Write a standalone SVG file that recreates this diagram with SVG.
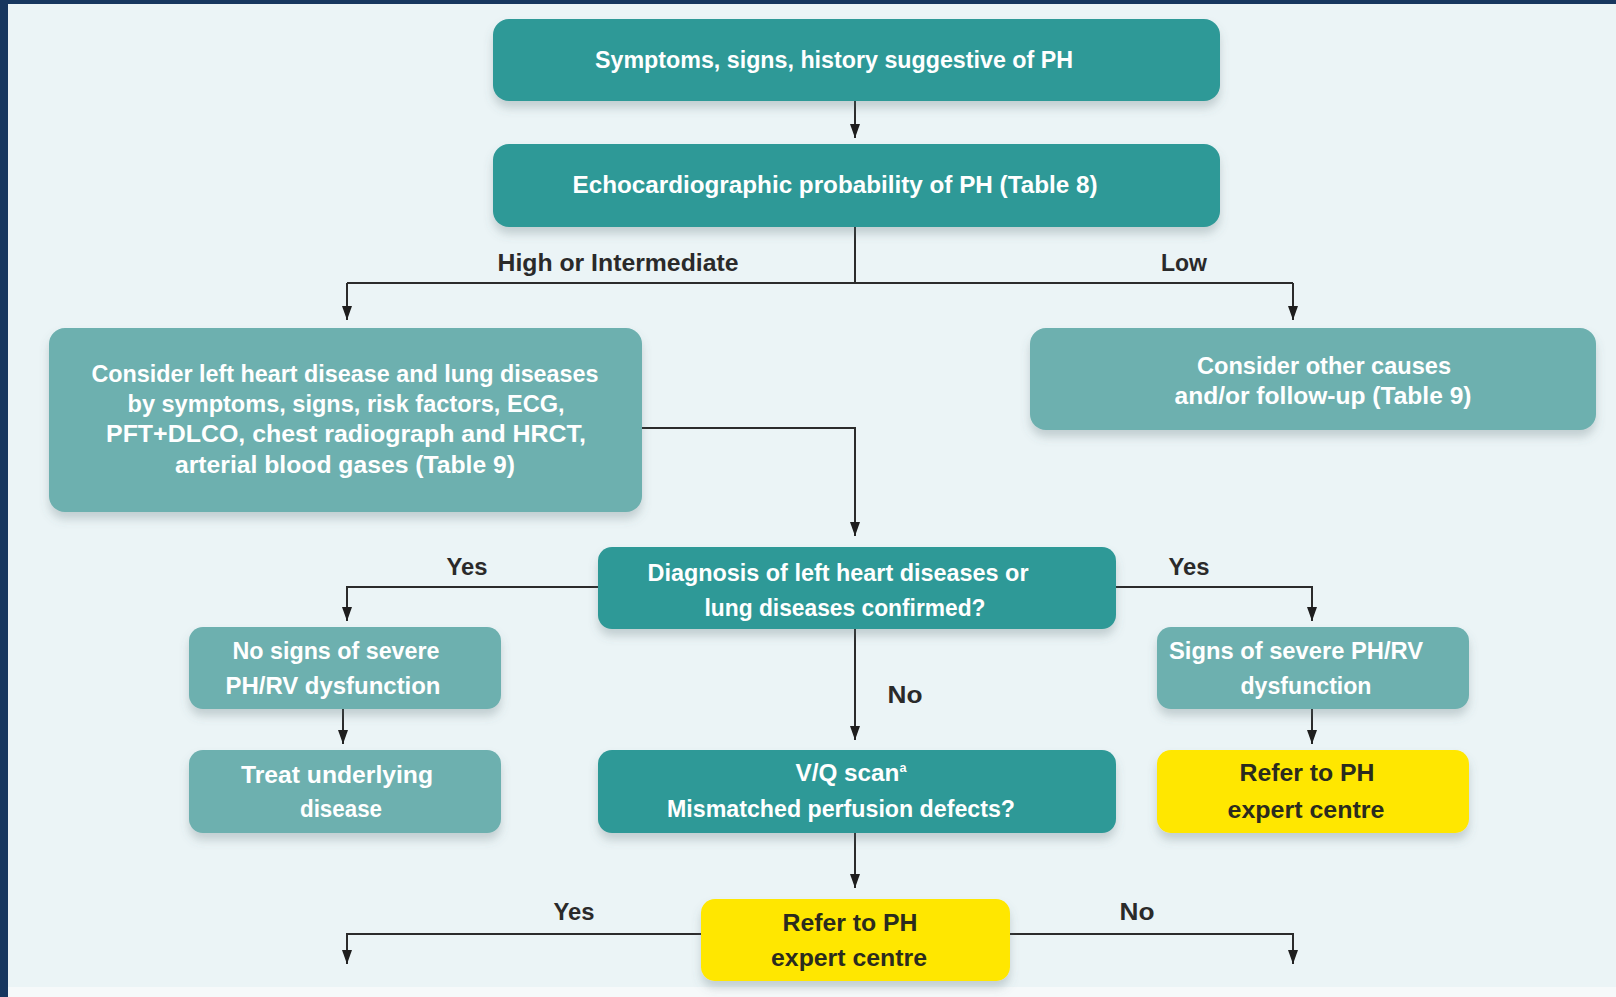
<svg xmlns="http://www.w3.org/2000/svg" width="1616" height="997" viewBox="0 0 1616 997">
<style>
.dark{fill:#2E9997;}
.light{fill:#6DB0AF;}
.yel{fill:#FFE700;}
.t{font-family:"Liberation Sans",Arial,sans-serif;font-weight:bold;font-size:23px;fill:#FFFFFF;text-anchor:middle;}
.ty{font-family:"Liberation Sans",Arial,sans-serif;font-weight:bold;font-size:23px;fill:#2B2B1E;text-anchor:middle;}
.lab{font-family:"Liberation Sans",Arial,sans-serif;font-weight:bold;font-size:23px;fill:#2A2A2A;text-anchor:middle;}
.c{fill:none;stroke:#2B2B2B;stroke-width:2;}
</style>
<defs>
<filter id="sh" x="-10%" y="-20%" width="120%" height="160%">
<feDropShadow dx="0" dy="7" stdDeviation="5" flood-color="#5A6E73" flood-opacity="0.28"/>
</filter>
<marker id="ah" viewBox="0 0 10 14" refX="5" refY="14" markerWidth="10" markerHeight="14" markerUnits="userSpaceOnUse" orient="auto-start-reverse">
<path d="M0,0 L10,0 L5,14 Z" fill="#1E1E1E"/>
</marker>
<marker id="ad" viewBox="0 0 14 10" refX="14" refY="5" markerWidth="14" markerHeight="10" markerUnits="userSpaceOnUse" orient="auto">
<path d="M0,0 L14,5 L0,10 Z" fill="#1E1E1E"/>
</marker>
</defs>
<rect x="0" y="0" width="1616" height="997" fill="#EBF4F6"/>
<rect x="0" y="0" width="1616" height="4" fill="#17375F"/>
<rect x="0" y="0" width="8" height="997" fill="#17375F"/>
<rect x="8" y="987" width="1608" height="10" fill="#F6F9FA"/>

<g id="connectors">
<path class="c" d="M855,101 V138" marker-end="url(#ad)"/>
<path class="c" d="M855,227 V283"/>
<path class="c" d="M347,283 H1293"/>
<path class="c" d="M347,283 V320" marker-end="url(#ad)"/>
<path class="c" d="M1293,283 V320" marker-end="url(#ad)"/>
<path class="c" d="M642,428 H855 V536" marker-end="url(#ad)"/>
<path class="c" d="M598,587 H347 V621" marker-end="url(#ad)"/>
<path class="c" d="M1116,587 H1312 V621" marker-end="url(#ad)"/>
<path class="c" d="M855,629 V740" marker-end="url(#ad)"/>
<path class="c" d="M343,709 V744" marker-end="url(#ad)"/>
<path class="c" d="M1312,709 V744" marker-end="url(#ad)"/>
<path class="c" d="M855,833 V888" marker-end="url(#ad)"/>
<path class="c" d="M701,934 H347 V964" marker-end="url(#ad)"/>
<path class="c" d="M1010,934 H1293 V964" marker-end="url(#ad)"/>
<text class="lab" x="618" y="271" textLength="241" lengthAdjust="spacingAndGlyphs">High or Intermediate</text>
<text class="lab" x="1184" y="271" textLength="46" lengthAdjust="spacingAndGlyphs">Low</text>
<text class="lab" x="467" y="575" textLength="41" lengthAdjust="spacingAndGlyphs">Yes</text>
<text class="lab" x="1189" y="575" textLength="41" lengthAdjust="spacingAndGlyphs">Yes</text>
<text class="lab" x="905" y="703" textLength="35" lengthAdjust="spacingAndGlyphs">No</text>
<text class="lab" x="574" y="920" textLength="41" lengthAdjust="spacingAndGlyphs">Yes</text>
<text class="lab" x="1137" y="920" textLength="35" lengthAdjust="spacingAndGlyphs">No</text>
</g>

<g id="n1">
<rect class="dark" x="493" y="19" width="727" height="82" rx="16" filter="url(#sh)"/>
<text class="t" x="834" y="68" textLength="478" lengthAdjust="spacingAndGlyphs">Symptoms, signs, history suggestive of PH</text>
</g>
<g id="n2">
<rect class="dark" x="493" y="144" width="727" height="83" rx="16" filter="url(#sh)"/>
<text class="t" x="835" y="193" textLength="525" lengthAdjust="spacingAndGlyphs">Echocardiographic probability of PH (Table 8)</text>
</g>
<g id="n3">
<rect class="light" x="49" y="328" width="593" height="184" rx="16" filter="url(#sh)"/>
<text class="t" x="345" y="382" textLength="507" lengthAdjust="spacingAndGlyphs">Consider left heart disease and lung diseases</text>
<text class="t" x="346" y="412" textLength="437" lengthAdjust="spacingAndGlyphs">by symptoms, signs, risk factors, ECG,</text>
<text class="t" x="346" y="442" textLength="480" lengthAdjust="spacingAndGlyphs">PFT+DLCO, chest radiograph and HRCT,</text>
<text class="t" x="345" y="473" textLength="340" lengthAdjust="spacingAndGlyphs">arterial blood gases  (Table 9)</text>
</g>
<g id="n4">
<rect class="light" x="1030" y="328" width="566" height="102" rx="16" filter="url(#sh)"/>
<text class="t" x="1324" y="374" textLength="254" lengthAdjust="spacingAndGlyphs">Consider other causes</text>
<text class="t" x="1323" y="404" textLength="297" lengthAdjust="spacingAndGlyphs">and/or follow-up (Table 9)</text>
</g>
<g id="n5">
<rect class="dark" x="598" y="547" width="518" height="82" rx="14" filter="url(#sh)"/>
<text class="t" x="838" y="581" textLength="381" lengthAdjust="spacingAndGlyphs">Diagnosis of left heart diseases or</text>
<text class="t" x="845" y="616" textLength="281" lengthAdjust="spacingAndGlyphs">lung diseases confirmed?</text>
</g>
<g id="n6">
<rect class="light" x="189" y="627" width="312" height="82" rx="14" filter="url(#sh)"/>
<text class="t" x="336" y="659" textLength="207" lengthAdjust="spacingAndGlyphs">No signs of severe</text>
<text class="t" x="333" y="694" textLength="215" lengthAdjust="spacingAndGlyphs">PH/RV dysfunction</text>
</g>
<g id="n7">
<rect class="light" x="189" y="750" width="312" height="83" rx="14" filter="url(#sh)"/>
<text class="t" x="337" y="783" textLength="192" lengthAdjust="spacingAndGlyphs">Treat underlying</text>
<text class="t" x="341" y="817" textLength="82" lengthAdjust="spacingAndGlyphs">disease</text>
</g>
<g id="n8">
<rect class="dark" x="598" y="750" width="518" height="83" rx="14" filter="url(#sh)"/>
<text class="t" x="851" y="781" textLength="111" lengthAdjust="spacingAndGlyphs">V/Q scan<tspan font-size="12" dy="-9">a</tspan></text>
<text class="t" x="841" y="817" textLength="348" lengthAdjust="spacingAndGlyphs">Mismatched perfusion defects?</text>
</g>
<g id="n9">
<rect class="light" x="1157" y="627" width="312" height="82" rx="14" filter="url(#sh)"/>
<text class="t" x="1296" y="659" textLength="254" lengthAdjust="spacingAndGlyphs">Signs of severe PH/RV</text>
<text class="t" x="1306" y="694" textLength="131" lengthAdjust="spacingAndGlyphs">dysfunction</text>
</g>
<g id="n10">
<rect class="yel" x="1157" y="750" width="312" height="83" rx="14" filter="url(#sh)"/>
<text class="ty" x="1307" y="781" textLength="135" lengthAdjust="spacingAndGlyphs">Refer to PH</text>
<text class="ty" x="1306" y="818" textLength="157" lengthAdjust="spacingAndGlyphs">expert centre</text>
</g>
<g id="n11">
<rect class="yel" x="701" y="899" width="309" height="82" rx="14" filter="url(#sh)"/>
<text class="ty" x="850" y="931" textLength="135" lengthAdjust="spacingAndGlyphs">Refer to PH</text>
<text class="ty" x="849" y="966" textLength="156" lengthAdjust="spacingAndGlyphs">expert centre</text>
</g>
</svg>
